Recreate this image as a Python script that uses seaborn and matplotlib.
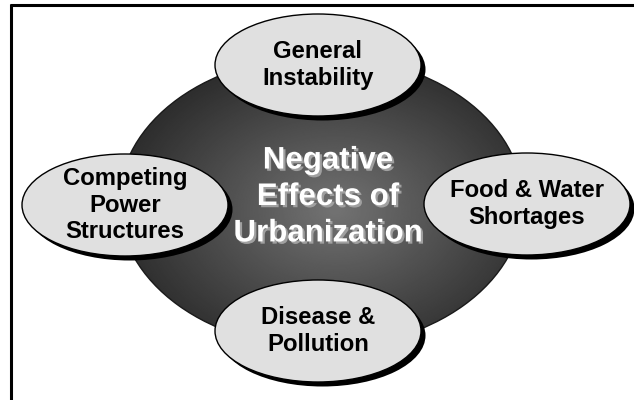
import numpy as np
import matplotlib
matplotlib.use("Agg")
import matplotlib.pyplot as plt
import matplotlib.patheffects as pe
from matplotlib.patches import Ellipse
import seaborn as sns

# diagram text
center_label = "Negative\nEffects of\nUrbanization"
effects = ["General\nInstability", "Competing\nPower\nStructures",
           "Food & Water\nShortages", "Disease &\nPollution"]

# layout (pixel coords, y down)
effect_xy = [(318, 65), (125, 205), (527, 204), (318, 331)]
bubble_w, bubble_h = 206, 102
hub_xy = (321, 202)
hub_w, hub_h = 404, 292

sns.set_theme(style="white")
plt.rcParams['font.family'] = ['Liberation Sans', 'DejaVu Sans']

fig = plt.figure(figsize=(6.34, 4.0), dpi=100)
ax = fig.add_axes([0, 0, 1, 1])
ax.set_xlim(0, 634)
ax.set_ylim(400, 0)
ax.axis("off")

# frame (top and left only)
ax.plot([10, 634], [5, 5], color="black", lw=2.2, solid_capstyle="butt")
ax.plot([11, 11], [4, 400], color="black", lw=2.2, solid_capstyle="butt")

# dark hub with radial gradient
hub = Ellipse(hub_xy, hub_w, hub_h, facecolor="none", edgecolor="#1a1a1a", lw=1.0, zorder=2)
ax.add_patch(hub)
x0, x1 = hub_xy[0] - hub_w / 2, hub_xy[0] + hub_w / 2
y0, y1 = hub_xy[1] - hub_h / 2, hub_xy[1] + hub_h / 2
gx, gy = np.meshgrid(np.linspace(x0, x1, 400), np.linspace(y0, y1, 290))
d = np.sqrt(((gx - 335) / (hub_w / 2)) ** 2 + ((gy - 210) / (hub_h / 2)) ** 2)
shade = np.clip(0.45 - 0.25 * d, 0.18, 1)
im = ax.imshow(shade, extent=(x0, x1, y1, y0), cmap="gray", vmin=0, vmax=1,
               interpolation="bilinear", zorder=1)
im.set_clip_path(hub)

# bubbles with drop shadow
for (cx, cy), lab in zip(effect_xy, effects):
    ax.add_patch(Ellipse((cx + 4.5, cy + 4.5), bubble_w, bubble_h, facecolor="black",
                         edgecolor="none", zorder=3))
    ax.add_patch(Ellipse((cx, cy), bubble_w, bubble_h, facecolor="#e0e0e0",
                         edgecolor="black", lw=1.0, zorder=4))
    ax.text(cx, cy, lab, ha="center", va="center", fontsize=17.2, fontweight="bold",
            color="black", linespacing=1.2, zorder=5)

# center title
ax.text(328, 197, center_label, ha="center", va="center", fontsize=22.5,
        fontweight="bold", color="white", linespacing=1.28, zorder=5,
        path_effects=[pe.SimplePatchShadow(offset=(1.6, -1.6), shadow_rgbFace="#a0a0a0", alpha=1),
                      pe.Normal()])

fig.savefig("out.png", dpi=100, facecolor="white")
